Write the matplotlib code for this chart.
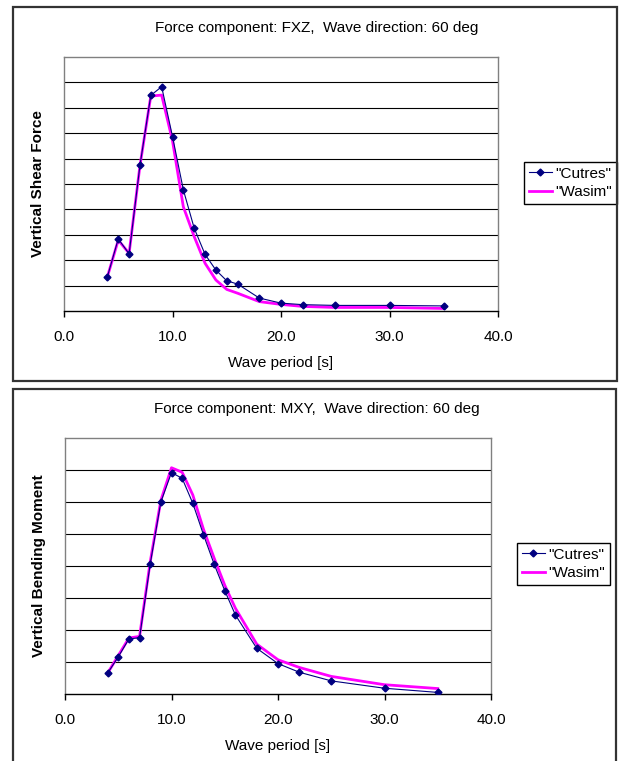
import matplotlib
matplotlib.use("Agg")
import matplotlib.pyplot as plt
from matplotlib.patches import Rectangle

plt.rcParams['font.family'] = ['Liberation Sans', 'DejaVu Sans']

# wave periods [s]
periods = [4, 5, 6, 7, 8, 9, 10, 11, 12, 13, 14, 15, 16, 18, 20, 22, 25, 30, 35]

# FXZ - vertical shear force (arbitrary units, no tick labels on the original)
fxz_cutres = [1.35, 2.84, 2.25, 5.73, 8.49, 8.83, 6.87, 4.77, 3.26, 2.23, 1.61,
              1.19, 1.06, 0.51, 0.31, 0.25, 0.22, 0.22, 0.20]
fxz_wasim = [1.35, 2.79, 2.27, 5.72, 8.46, 8.50, 6.70, 4.10, 2.93, 1.88, 1.22,
             0.85, 0.70, 0.37, 0.26, 0.18, 0.14, 0.14, 0.10]

# MXY - vertical bending moment
mxy_cutres = [0.65, 1.16, 1.72, 1.76, 4.06, 6.00, 6.92, 6.74, 5.96, 4.98, 4.06,
              3.23, 2.47, 1.43, 0.95, 0.68, 0.41, 0.18, 0.05]
mxy_wasim = [0.65, 1.20, 1.75, 1.80, 4.13, 6.05, 7.07, 6.93, 6.22, 5.15, 4.25,
             3.40, 2.68, 1.56, 1.07, 0.83, 0.55, 0.29, 0.17]

xticks = [0, 10, 20, 30, 40]
xtick_labels = ["0.0", "10.0", "20.0", "30.0", "40.0"]

W, H = 619, 761
fig = plt.figure(figsize=(W / 100, H / 100), dpi=100)


def px_box(x0, y0, x1, y1):
    """pixel box (top-left origin) -> figure fraction [l, b, w, h]"""
    return [x0 / W, 1 - y1 / H, (x1 - x0) / W, (y1 - y0) / H]


def draw_panel(box, ax_box, title, title_y, ylabel, ymax, cutres, wasim, leg_xy):
    # outer frame of the chart object
    l, b, w, h = px_box(*box)
    fig.patches.append(Rectangle((l, b), w, h, transform=fig.transFigure,
                                 fill=False, edgecolor='#333333', linewidth=1.6))

    ax = fig.add_axes(px_box(*ax_box))
    ax.set_xlim(0, 40)
    ax.set_ylim(0, ymax)

    for yv in range(1, ymax):
        ax.axhline(yv, color='black', linewidth=0.8, zorder=1)

    ax.plot(periods, wasim, color='#FF00FF', linewidth=2.0, label='"Wasim"', zorder=3)
    ax.plot(periods, cutres, color='#000080', linewidth=0.8, marker='D',
            markersize=3.5, label='"Cutres"', zorder=4)

    for side in ['left', 'right', 'top']:
        ax.spines[side].set_color('#808080')
        ax.spines[side].set_linewidth(1.0)
    ax.spines['bottom'].set_color('black')
    ax.spines['bottom'].set_linewidth(1.0)

    ax.set_yticks([])
    ax.set_xticks(xticks)
    ax.set_xticklabels(xtick_labels, fontsize=11)
    ax.tick_params(axis='x', direction='out', length=4, width=1.0, pad=10)
    ax.set_xlabel('Wave period [s]', fontsize=11, labelpad=8)
    ax.set_ylabel(ylabel, fontsize=11, fontweight='bold', labelpad=14)

    fig.text(317 / W, 1 - title_y / H, title, fontsize=11, ha='center', va='center')

    handles, labels = ax.get_legend_handles_labels()
    leg = ax.legend(handles[::-1], labels[::-1], loc='upper left',
                    bbox_to_anchor=(leg_xy[0] / W, 1 - leg_xy[1] / H),
                    bbox_transform=fig.transFigure, fontsize=11,
                    fancybox=False, framealpha=1, edgecolor='black',
                    handlelength=1.5, handletextpad=0.25, borderpad=0.3,
                    labelspacing=0.3, borderaxespad=0)
    leg.get_frame().set_linewidth(1.0)
    return ax


draw_panel((13, 7, 617, 381), (64, 57, 498, 311),
           'Force component: FXZ,  Wave direction: 60 deg', 28,
           'Vertical Shear Force', 10, fxz_cutres, fxz_wasim, (524, 162))

draw_panel((13, 389, 616, 775), (65, 438, 491, 694),
           'Force component: MXY,  Wave direction: 60 deg', 409,
           'Vertical Bending Moment', 8, mxy_cutres, mxy_wasim, (517, 543))

fig.savefig('out.png', dpi=100)
